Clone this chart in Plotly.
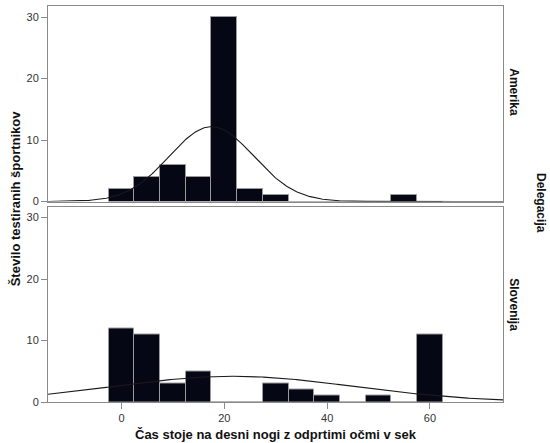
import numpy as np
import plotly.graph_objects as go
from plotly.subplots import make_subplots

# ---- data ----
bin_centers = [0, 5, 10, 15, 20, 25, 30, 35, 40, 45, 50, 55, 60]
amerika_counts = [2, 4, 6, 4, 30, 2, 1, 0, 0, 0, 0, 1, 0]
slovenija_counts = [12, 11, 3, 5, 0, 0, 3, 2, 1, 0, 1, 0, 11]
bin_width = 5

# normal-curve parameters (mean, sd)
amerika_mean, amerika_sd = 17.5, 8.2
slovenija_mean, slovenija_sd = 21.8, 23.4

panel_labels = ["Amerika", "Slovenija"]
x_ticks = [0, 20, 40, 60]
y_ticks = [0, 10, 20, 30]
x_range = [-14.3, 74.2]
y_range = [0, 31.8]

x_title = "Čas stoje na desni nogi z odprtimi očmi v sek"
y_title = "Število testiranih športnikov"
facet_title = "Delegacija"

BAR = "#050814"
FRAME = "#8a8a8a"
FONT = "Liberation Sans, Arial, sans-serif"

fig = make_subplots(rows=2, cols=1, shared_xaxes=True, vertical_spacing=5 / 396)

series = [
    (amerika_counts, amerika_mean, amerika_sd),
    (slovenija_counts, slovenija_mean, slovenija_sd),
]

xs = np.linspace(x_range[0], x_range[1], 400)
for i, (counts, mu, sd) in enumerate(series, start=1):
    fig.add_trace(
        go.Bar(
            x=bin_centers, y=counts, width=bin_width,
            marker=dict(color=BAR, line=dict(color="#9a9a9a", width=1)),
            showlegend=False, hoverinfo="x+y",
        ),
        row=i, col=1,
    )
    n = sum(counts)
    ys = n * bin_width * np.exp(-0.5 * ((xs - mu) / sd) ** 2) / (sd * np.sqrt(2 * np.pi))
    fig.add_trace(
        go.Scatter(x=xs, y=ys, mode="lines", line=dict(color="#1a1a1a", width=1.1),
                   showlegend=False, hoverinfo="skip"),
        row=i, col=1,
    )

axis_common = dict(showline=True, linecolor=FRAME, linewidth=1, mirror=True,
                   showgrid=False, zeroline=False)

for r in (1, 2):
    fig.update_yaxes(range=y_range, tickvals=y_ticks, ticks="outside", ticklen=6,
                     tickcolor=FRAME, tickfont=dict(size=11, color="#333", family=FONT),
                     **axis_common, row=r, col=1)
fig.update_xaxes(range=x_range, **axis_common, row=1, col=1, ticks="", showticklabels=False)
fig.update_xaxes(range=x_range, tickvals=x_ticks, ticks="outside", ticklen=6,
                 tickcolor=FRAME, tickfont=dict(size=11, color="#333", family=FONT),
                 **axis_common, row=2, col=1)

def ann(text, x, y, angle, size):
    return dict(text=f"<b>{text}</b>", x=x, y=y, xref="paper", yref="paper",
                xanchor="center", yanchor="middle", textangle=angle, showarrow=False,
                font=dict(size=size, color="#111", family=FONT))

annots = [
    ann(panel_labels[0], 1.025, 0.7813, 90, 12),
    ann(panel_labels[1], 1.025, 0.2462, 90, 12),
    ann(facet_title, 1.0835, 0.5025, 90, 12),
    ann(y_title, -0.072, 0.515, -90, 13),
    ann(x_title, 0.5, -0.083, 0, 13),
]
fig.update_layout(
    width=550, height=443,
    margin=dict(l=48, r=47, t=6, b=41),
    paper_bgcolor="white", plot_bgcolor="white",
    bargap=0, annotations=annots,
    font=dict(family=FONT),
)

fig.write_html(
    "out.html",
    config={"displayModeBar": False},
    post_script="document.body.style.margin='0';document.body.style.overflow='hidden';",
)
